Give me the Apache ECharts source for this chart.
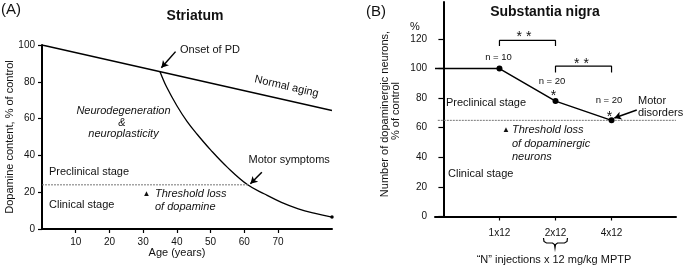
<!DOCTYPE html>
<html>
<head>
<meta charset="utf-8">
<script src="https://cdn.jsdelivr.net/npm/echarts@6/dist/echarts.min.js"></script>
<style>
html,body{margin:0;padding:0;background:#fff;}
#chart{width:685px;height:268px;}
</style>
</head>
<body>
<div id="chart"></div>
<script>
// ---------- Panel A data (Striatum) ----------
const agingAge = [0, 86];
const agingDopamine = [100, 64.4];
const pdAge = [35, 37, 40, 43, 46, 50, 55, 61, 66, 71, 76, 81, 86];
const pdDopamine = [85.5, 77, 67, 58.5, 51.5, 43, 33.5, 24, 19, 14.5, 11, 8.5, 6.5];
const thresholdDopamine = 24;
const thresholdAgeEnd = 61.3;
const ageTicks = [10, 20, 30, 40, 50, 60, 70];
const dopamineTicks = [0, 20, 40, 60, 80, 100];

// ---------- Panel B data (Substantia nigra) ----------
const injectionLabels = ['1x12', '2x12', '4x12'];
const injectionIndex = [1, 2, 3];
const neuronValues = [100, 78, 65];
const thresholdNeurons = 65;
const neuronTicks = [0, 20, 40, 60, 80, 100, 120];
const sampleSizes = ['n = 10', 'n = 20', 'n = 20'];

const FONT = '"Liberation Sans", Arial, sans-serif';
const xMinB = -0.15, xMaxB = 4.15;

const chart = echarts.init(document.getElementById('chart'), null, {renderer: 'canvas'});

function txt(text, x, y, opts) {
  opts = opts || {};
  const size = opts.size || 11;
  const style = {
    text: text, x: 0, y: 0,
    font: (opts.italic ? 'italic ' : '') + (opts.bold ? 'bold ' : '') + size + 'px ' + FONT,
    fill: '#111',
    textAlign: opts.align || 'left',
    textVerticalAlign: 'middle'
  };
  return {type: 'text', x: x, y: y, rotation: opts.rot || 0, style: style, silent: true, z: 100};
}

const axisLineStyle = {color: '#000', width: 2};
const labelStyle = {color: '#111', fontSize: 10, fontFamily: FONT};

const option = {
  animation: false,
  backgroundColor: '#fff',
  grid: [
    {left: 42, top: 45, width: 290, height: 184},
    {left: 435, top: 2, width: 241, height: 214.5}
  ],
  xAxis: [
    {
      gridIndex: 0, type: 'value', min: 0, max: 86,
      axisLine: {show: true, lineStyle: axisLineStyle},
      axisTick: {show: true, length: 4, customValues: ageTicks, lineStyle: {color: '#000', width: 1.2}},
      axisLabel: {customValues: ageTicks, margin: 8, ...labelStyle},
      splitLine: {show: false}
    },
    {
      gridIndex: 1, type: 'value', min: xMinB, max: xMaxB,
      axisLine: {show: true, lineStyle: axisLineStyle},
      axisTick: {show: true, length: 4, customValues: injectionIndex, lineStyle: {color: '#000', width: 1.2}},
      axisLabel: {customValues: injectionIndex, margin: 12, ...labelStyle,
        formatter: function (v) { const i = injectionIndex.indexOf(Math.round(v)); return i >= 0 ? injectionLabels[i] : ''; }},
      splitLine: {show: false}
    }
  ],
  yAxis: [
    {
      gridIndex: 0, type: 'value', min: 0, max: 100,
      axisLine: {show: true, lineStyle: axisLineStyle},
      axisTick: {show: true, length: 4, customValues: dopamineTicks, lineStyle: {color: '#000', width: 1.2}},
      axisLabel: {customValues: dopamineTicks, margin: 7, ...labelStyle},
      splitLine: {show: false}
    },
    {
      gridIndex: 1, type: 'value', min: 0, max: 145,
      axisLine: {show: true, lineStyle: axisLineStyle},
      axisTick: {show: true, length: 5, customValues: neuronTicks, lineStyle: {color: '#000', width: 1.2}},
      axisLabel: {customValues: neuronTicks, margin: 8, ...labelStyle},
      splitLine: {show: false}
    }
  ],
  series: [
    // Panel A
    {
      type: 'line', xAxisIndex: 0, yAxisIndex: 0, symbol: 'none',
      data: agingAge.map((a, i) => [a, agingDopamine[i]]),
      lineStyle: {color: '#000', width: 1.3},
      markLine: {
        silent: true, symbol: ['none', 'arrow'], symbolSize: [6, 7], label: {show: false},
        lineStyle: {color: '#000', width: 1.5, type: 'solid'},
        data: [
          [{coord: [39.6, 96.4]}, {coord: [35.4, 87.6]}],
          [{coord: [65.2, 30.8]}, {coord: [61.8, 24.6]}]
        ]
      }
    },
    {
      type: 'line', xAxisIndex: 0, yAxisIndex: 0, smooth: 0.4,
      data: pdAge.map((a, i) => ({value: [a, pdDopamine[i]], symbol: i === pdAge.length - 1 ? 'circle' : 'none', symbolSize: 3.5})),
      itemStyle: {color: '#000'},
      lineStyle: {color: '#000', width: 1.3}
    },
    {
      type: 'line', xAxisIndex: 0, yAxisIndex: 0, symbol: 'none',
      data: [[0, thresholdDopamine], [thresholdAgeEnd, thresholdDopamine]],
      lineStyle: {color: '#777', width: 1, type: [2, 1]}
    },
    // Panel B
    {
      type: 'line', xAxisIndex: 1, yAxisIndex: 1, symbol: 'none',
      data: [[xMinB, neuronValues[0]], [injectionIndex[0], neuronValues[0]]],
      lineStyle: {color: '#000', width: 1.5}
    },
    {
      type: 'line', xAxisIndex: 1, yAxisIndex: 1, symbol: 'circle', symbolSize: 6,
      data: injectionIndex.map((x, i) => [x, neuronValues[i]]),
      itemStyle: {color: '#000'},
      lineStyle: {color: '#000', width: 1.5},
      z: 5,
      markLine: {
        silent: true, symbol: ['none', 'arrow'], symbolSize: [6, 7], label: {show: false},
        lineStyle: {color: '#000', width: 1.5, type: 'solid'},
        data: [[{coord: [3.45, 72]}, {coord: [3.05, 66.6]}]]
      }
    },
    {
      type: 'line', xAxisIndex: 1, yAxisIndex: 1, symbol: 'none',
      data: [[xMinB + 0.05, thresholdNeurons], [xMaxB, thresholdNeurons]],
      lineStyle: {color: '#777', width: 1, type: [2, 1]}
    },
    {
      type: 'line', xAxisIndex: 1, yAxisIndex: 1, symbol: 'none',
      data: [[1, 115.3], [1, 119], [2, 119], [2, 115.3]],
      lineStyle: {color: '#000', width: 1.2}
    },
    {
      type: 'line', xAxisIndex: 1, yAxisIndex: 1, symbol: 'none',
      data: [[2, 97.3], [2, 101.6], [3, 101.6], [3, 97.3]],
      lineStyle: {color: '#000', width: 1.2}
    }
  ],
  graphic: [
    // Panel A texts
    txt('(A)', 1, 10, {size: 15}),
    txt('Striatum', 195, 16, {size: 14, bold: true, align: 'center'}),
    txt('Onset of PD', 180, 49.5, {size: 11}),
    txt('Normal aging', 286.5, 86.5, {size: 11, align: 'center', rot: -13 * Math.PI / 180}),
    txt('Neurodegeneration', 123.5, 111, {size: 11, italic: true, align: 'center'}),
    txt('&', 122, 122.5, {size: 11, italic: true, align: 'center'}),
    txt('neuroplasticity', 123.5, 133.5, {size: 11, italic: true, align: 'center'}),
    txt('Motor symptoms', 248.5, 160, {size: 11}),
    txt('Preclinical stage', 49, 171.5, {size: 11}),
    txt('Clinical stage', 49, 205, {size: 11}),
    txt('▲', 146.5, 194, {size: 8, align: 'center'}),
    txt('Threshold loss', 155, 194, {size: 11, italic: true}),
    txt('of dopamine', 155, 207, {size: 11, italic: true}),
    txt('Age (years)', 177, 253, {size: 11, align: 'center'}),
    txt('Dopamine content, % of control', 10, 137, {size: 11, align: 'center', rot: Math.PI / 2}),
    // Panel B texts
    txt('(B)', 366, 11.5, {size: 15}),
    txt('Substantia nigra', 545, 12.5, {size: 14, bold: true, align: 'center'}),
    txt('%', 415, 27, {size: 11, align: 'center'}),
    txt('Number of dopaminergic neurons,', 385, 114, {size: 11, align: 'center', rot: Math.PI / 2}),
    txt('% of control', 395.5, 111, {size: 11, align: 'center', rot: Math.PI / 2}),
    txt('* *', 524, 37.5, {size: 14, align: 'center'}),
    txt('* *', 581.5, 64, {size: 14, align: 'center'}),
    txt(sampleSizes[0], 498.5, 57, {size: 9.5, align: 'center'}),
    txt(sampleSizes[1], 552, 81, {size: 9.5, align: 'center'}),
    txt('*', 553.5, 96, {size: 14, align: 'center'}),
    txt(sampleSizes[2], 609, 100, {size: 9.5, align: 'center'}),
    txt('*', 609.5, 117.5, {size: 14, align: 'center'}),
    txt('Motor', 638, 101, {size: 11}),
    txt('disorders', 638, 112.5, {size: 11}),
    txt('Preclinical stage', 446, 102.5, {size: 11}),
    txt('▲', 506, 129.5, {size: 8, align: 'center'}),
    txt('Threshold loss', 512, 130, {size: 11, italic: true}),
    txt('of dopaminergic', 512, 144, {size: 11, italic: true}),
    txt('neurons', 512, 156.5, {size: 11, italic: true}),
    txt('Clinical stage', 448, 173.5, {size: 11}),
    txt('\u201CN\u201D injections x 12 mg/kg MPTP', 554, 259.5, {size: 11, align: 'center'}),
    {
      type: 'polyline', silent: true, z: 100,
      shape: {points: [[543.5, 238], [544, 241.5], [546.5, 243], [552.5, 243], [554.5, 244.5], [555, 248], [555.5, 244.5], [557.5, 243], [564.5, 243], [567, 241.5], [567.5, 238]]},
      style: {stroke: '#000', lineWidth: 1.2, fill: null}
    }
  ]
};
chart.setOption(option);
</script>
</body>
</html>
